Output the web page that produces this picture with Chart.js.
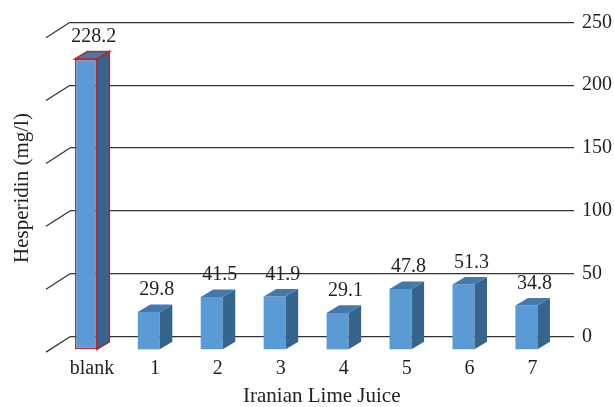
<!DOCTYPE html>
<html>
<head>
<meta charset="utf-8">
<script src="https://cdn.jsdelivr.net/npm/chart.js@4/dist/chart.umd.min.js"></script>
<style>
  html, body { margin: 0; padding: 0; background: #ffffff; }
  canvas { display: block; }
</style>
</head>
<body>
<canvas id="chart" width="614" height="407"></canvas>
<script>
// Hesperidin content of Iranian lime juice samples
const categories = ['blank', '1', '2', '3', '4', '5', '6', '7'];
const hesperidin = [228.2, 29.8, 41.5, 41.9, 29.1, 47.8, 51.3, 34.8];
const yTickValues = [0, 50, 100, 150, 200, 250];
const xTitle = 'Iranian Lime Juice';
const yTitle = 'Hesperidin (mg/l)';

// look
const FONT_FAMILY = '"Liberation Serif", "DejaVu Serif", serif';
const FONT_SIZE = 20;
const TITLE_SIZE = 21;
const TEXT_COLOR = '#231f20';
const GRID_COLOR = '#333333';
const GRID_WIDTH = 1.25;
const FRONT_COLOR = '#5b9bd5';
const TOP_COLOR = '#4479ad';
const SIDE_COLOR = '#35648c';
const EDGE_COLOR = '#b8262e';

// 3-D geometry: back wall offset, front plane of the bars, bar depth
const WALL = { dx: 24, dy: -15.4 };
const FRONT_PLANE = { dx: -15.6, dy: 13.3, k: 1.014 };
const BAR_DEPTH = { dx: 12.5, dy: -7.5 };
const LABEL_OFFSET = { dx: 8, dy: -22 };

function toFront(chart, x, y) {
  const b = chart.chartArea.bottom;
  return { x: x + FRONT_PLANE.dx, y: b + FRONT_PLANE.dy + (y - b) * FRONT_PLANE.k };
}

const threeD = {
  id: 'threeD',
  beforeDatasetsDraw(chart) {
    const { ctx, chartArea, scales } = chart;
    // slanted floor/wall tick lines on the left
    ctx.save();
    ctx.strokeStyle = GRID_COLOR;
    ctx.lineWidth = GRID_WIDTH;
    yTickValues.forEach(v => {
      const yb = scales.y.getPixelForValue(v);
      ctx.beginPath();
      ctx.moveTo(chartArea.left - WALL.dx, yb - WALL.dy);
      ctx.lineTo(chartArea.left, yb);
      ctx.stroke();
    });
    ctx.restore();

    // bars are drawn on the front plane
    ctx.save();
    ctx.translate(FRONT_PLANE.dx, chartArea.bottom + FRONT_PLANE.dy);
    ctx.scale(1, FRONT_PLANE.k);
    ctx.translate(0, -chartArea.bottom);
  },
  afterDatasetsDraw(chart) {
    const { ctx } = chart;
    const meta = chart.getDatasetMeta(0);
    const ds = chart.data.datasets[0];
    meta.data.forEach((bar, i) => {
      const { x, y, base, width } = bar.getProps(['x', 'y', 'base', 'width'], true);
      const l = x - width / 2, r = x + width / 2;
      const { dx, dy } = BAR_DEPTH;
      const edge = ds.borderWidth[i] > 0;

      // side face
      ctx.beginPath();
      ctx.moveTo(r, y);
      ctx.lineTo(r + dx, y + dy);
      ctx.lineTo(r + dx, base + dy);
      ctx.lineTo(r, base);
      ctx.closePath();
      ctx.fillStyle = SIDE_COLOR;
      ctx.fill();
      if (edge) { ctx.strokeStyle = EDGE_COLOR; ctx.lineWidth = ds.borderWidth[i]; ctx.stroke(); }

      // top face
      ctx.beginPath();
      ctx.moveTo(l, y);
      ctx.lineTo(l + dx, y + dy);
      ctx.lineTo(r + dx, y + dy);
      ctx.lineTo(r, y);
      ctx.closePath();
      ctx.fillStyle = TOP_COLOR;
      ctx.fill();
      if (edge) { ctx.strokeStyle = EDGE_COLOR; ctx.lineWidth = ds.borderWidth[i]; ctx.stroke(); }
    });
    ctx.restore();

    // value labels above each bar
    ctx.save();
    ctx.font = `${FONT_SIZE}px ${FONT_FAMILY}`;
    ctx.fillStyle = TEXT_COLOR;
    ctx.textAlign = 'center';
    ctx.textBaseline = 'middle';
    meta.data.forEach((bar, i) => {
      const p = toFront(chart, bar.x, bar.y);
      ctx.fillText(hesperidin[i].toFixed(1), p.x + LABEL_OFFSET.dx, p.y + LABEL_OFFSET.dy);
    });
    ctx.restore();
  },
  afterDraw(chart) {
    const { ctx } = chart;
    ctx.save();
    ctx.font = `${TITLE_SIZE}px ${FONT_FAMILY}`;
    ctx.fillStyle = TEXT_COLOR;
    ctx.textAlign = 'center';
    ctx.textBaseline = 'middle';
    ctx.translate(22, 188);
    ctx.rotate(-Math.PI / 2);
    ctx.fillText(yTitle, 0, 0);
    ctx.restore();
  }
};

new Chart(document.getElementById('chart'), {
  type: 'bar',
  data: {
    labels: categories,
    datasets: [{
      data: hesperidin,
      backgroundColor: FRONT_COLOR,
      borderColor: categories.map((c, i) => i === 0 ? EDGE_COLOR : FRONT_COLOR),
      borderWidth: categories.map((c, i) => i === 0 ? 1.5 : 0),
      borderSkipped: false,
      barPercentage: 0.35,
      categoryPercentage: 1,
      clip: false
    }]
  },
  options: {
    responsive: false,
    animation: false,
    events: [],
    layout: { padding: { left: 70, top: 22.3, right: 0, bottom: 0 } },
    plugins: {
      legend: { display: false },
      tooltip: { enabled: false },
      title: { display: false }
    },
    scales: {
      x: {
        type: 'category',
        offset: true,
        grid: { display: false, drawTicks: false },
        border: { display: false },
        ticks: {
          color: TEXT_COLOR,
          font: { family: FONT_FAMILY, size: FONT_SIZE, lineHeight: 1 },
          padding: 22,
          labelOffset: -9.5,
          maxRotation: 0
        },
        title: {
          display: true,
          text: xTitle,
          color: TEXT_COLOR,
          font: { family: FONT_FAMILY, size: TITLE_SIZE, lineHeight: 1 },
          padding: { top: 0, bottom: 0 }
        },
        afterFit(scale) { scale.height = 70.3; }
      },
      y: {
        type: 'linear',
        position: 'right',
        min: yTickValues[0],
        max: yTickValues[yTickValues.length - 1],
        afterBuildTicks(scale) { scale.ticks = yTickValues.map(v => ({ value: v })); },
        grid: { color: GRID_COLOR, lineWidth: GRID_WIDTH, drawTicks: false },
        border: { display: false },
        ticks: {
          color: TEXT_COLOR,
          font: { family: FONT_FAMILY, size: FONT_SIZE },
          padding: 8.5
        },
        afterFit(scale) { scale.width = 40.5; }
      }
    }
  },
  plugins: [threeD]
});
</script>
</body>
</html>
